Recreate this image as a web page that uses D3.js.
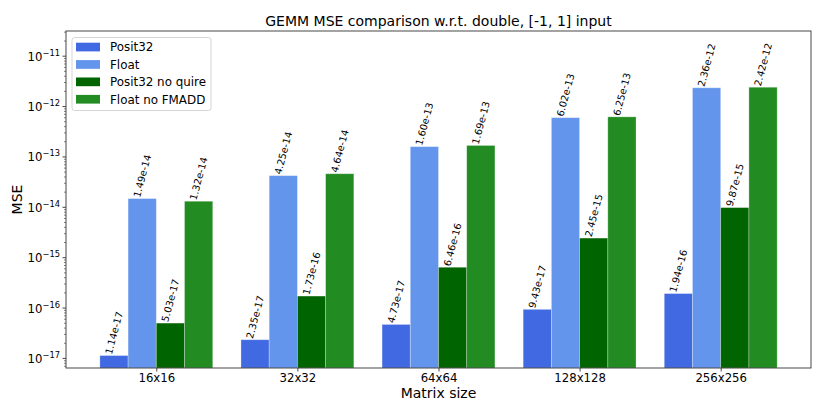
<!DOCTYPE html>
<html>
<head>
<meta charset="utf-8">
<script src="https://cdn.jsdelivr.net/npm/d3@7"></script>
<style>
  body { margin: 0; background: #fff; }
  text { font-family: "DejaVu Sans", sans-serif; fill: #000; }
</style>
</head>
<body>
<div id="chart"></div>
<script>
const W = 831, H = 412;
const margin = { top: 31, right: 20, bottom: 44, left: 66 };

// data
const sizes = ["16x16", "32x32", "64x64", "128x128", "256x256"];
const seriesNames = ["Posit32", "Float", "Posit32 no quire", "Float no FMADD"];
const seriesColors = ["#4169e1", "#6495ed", "#006400", "#228b22"];
const posit32 = [1.14e-17, 2.35e-17, 4.73e-17, 9.43e-17, 1.94e-16];
const float32 = [1.49e-14, 4.25e-14, 1.60e-13, 6.02e-13, 2.36e-12];
const positNoQuire = [5.03e-17, 1.73e-16, 6.46e-16, 2.45e-15, 9.87e-15];
const floatNoFmadd = [1.32e-14, 4.64e-14, 1.69e-13, 6.25e-13, 2.42e-12];
const yTickExps = [-17, -16, -15, -14, -13, -12, -11];

const series = [posit32, float32, positNoQuire, floatNoFmadd];
const barW = 0.2;

const svg = d3.select("#chart").append("svg")
  .attr("width", W)
  .attr("height", H);

const x = d3.scaleLinear()
  .domain([-0.64, 4.64])
  .range([margin.left, W - margin.right]);

const y = d3.scaleLog()
  .domain([Math.pow(10, -17.19), Math.pow(10, -10.5)])
  .range([H - margin.bottom, margin.top]);

const bottom = H - margin.bottom;

// bars
svg.append("clipPath").attr("id", "plot-clip")
  .append("rect")
  .attr("x", margin.left).attr("y", margin.top)
  .attr("width", W - margin.left - margin.right)
  .attr("height", bottom - margin.top);

const plot = svg.append("g").attr("clip-path", "url(#plot-clip)");

series.forEach((vals, s) => {
  const off = (s - 1.5) * barW;
  plot.selectAll(".bar-" + s)
    .data(vals)
    .enter().append("rect")
    .attr("x", (d, i) => x(i + off - barW / 2))
    .attr("y", d => y(d))
    .attr("width", x(barW) - x(0))
    .attr("height", d => bottom - y(d))
    .attr("fill", seriesColors[s])
    .attr("stroke", "#fff")
    .attr("stroke-opacity", 0.35)
    .attr("stroke-width", 0.8);
});

// value labels, rotated 75deg, bbox centred on bar and sitting on its top
const angle = 75, labelSize = 9.8;
const rad = angle * Math.PI / 180;
series.forEach((vals, s) => {
  const off = (s - 1.5) * barW;
  svg.selectAll(".lbl-" + s)
    .data(vals)
    .enter().append("text")
    .style("font-size", labelSize + "px")
    .attr("text-anchor", "middle")
    .attr("dominant-baseline", "central")
    .text(d => d.toExponential(2))
    .each(function(d, i) {
      const L = this.getComputedTextLength();
      const h = labelSize * 1.17;
      const bh = L * Math.sin(rad) + h * Math.cos(rad);
      const cx = x(i + off);
      const cy = y(d) - bh / 2;
      d3.select(this).attr("transform", `translate(${cx},${cy}) rotate(${-angle})`);
    });
});

// frame
svg.append("rect")
  .attr("x", margin.left).attr("y", margin.top)
  .attr("width", W - margin.left - margin.right)
  .attr("height", bottom - margin.top)
  .attr("fill", "none")
  .attr("stroke", "#333")
  .attr("stroke-width", 0.9);

// x axis
const xAxis = svg.append("g")
  .attr("transform", `translate(0,${bottom})`)
  .call(d3.axisBottom(x).tickValues(d3.range(sizes.length)).tickFormat(i => sizes[i]).tickSize(3.5).tickPadding(2));
xAxis.select(".domain").remove();
xAxis.selectAll("line").attr("stroke", "#333").attr("stroke-width", 0.9);
xAxis.selectAll("text").style("font-size", "11.7px").attr("fill", "#000");

// y axis: major ticks with 10^n labels, plus minor ticks
const minor = [];
for (let e = -18; e <= -10; e++) {
  for (let m = 2; m <= 9; m++) {
    const v = m * Math.pow(10, e);
    if (v >= y.domain()[0] && v <= y.domain()[1]) minor.push(v);
  }
}
const yAxis = svg.append("g").attr("transform", `translate(${margin.left},0)`);
yAxis.selectAll(".minor")
  .data(minor)
  .enter().append("line")
  .attr("x1", 0).attr("x2", -2)
  .attr("y1", d => y(d)).attr("y2", d => y(d))
  .attr("stroke", "#333").attr("stroke-width", 0.6);
yAxis.selectAll(".major")
  .data(yTickExps)
  .enter().append("line")
  .attr("x1", 0).attr("x2", -3.5)
  .attr("y1", d => y(Math.pow(10, d))).attr("y2", d => y(Math.pow(10, d)))
  .attr("stroke", "#333").attr("stroke-width", 0.9);
const yl = yAxis.selectAll(".ylab")
  .data(yTickExps)
  .enter().append("text")
  .attr("x", -6)
  .attr("y", d => y(Math.pow(10, d)) + 4.5)
  .attr("text-anchor", "end")
  .style("font-size", "11.7px");
yl.append("tspan").text("10");
yl.append("tspan")
  .attr("dy", -5)
  .style("font-size", "8.3px")
  .text(d => "\u2212" + Math.abs(d));

// titles
svg.append("text")
  .attr("x", (margin.left + W - margin.right) / 2)
  .attr("y", 26)
  .attr("text-anchor", "middle")
  .style("font-size", "14px")
  .text("GEMM MSE comparison w.r.t. double, [-1, 1] input");

svg.append("text")
  .attr("x", (margin.left + W - margin.right) / 2)
  .attr("y", 398)
  .attr("text-anchor", "middle")
  .style("font-size", "14px")
  .text("Matrix size");

svg.append("text")
  .attr("transform", `translate(22,${(margin.top + bottom) / 2}) rotate(-90)`)
  .attr("text-anchor", "middle")
  .style("font-size", "14px")
  .text("MSE");

// legend
const legend = svg.append("g");
legend.append("rect")
  .attr("x", 72).attr("y", 37.5)
  .attr("width", 139).attr("height", 73)
  .attr("rx", 2.5)
  .attr("fill", "#fff").attr("fill-opacity", 0.8)
  .attr("stroke", "#d0d0d0").attr("stroke-width", 0.9);
legend.selectAll(".item")
  .data(seriesNames)
  .enter().append("g")
  .attr("transform", (d, i) => `translate(0,${47 + i * 17.4})`)
  .each(function(d, i) {
    d3.select(this).append("rect")
      .attr("x", 76).attr("y", -4.3)
      .attr("width", 24).attr("height", 8.7)
      .attr("fill", seriesColors[i]);
    d3.select(this).append("text")
      .attr("x", 110).attr("y", 4.3)
      .style("font-size", "11.9px")
      .text(d);
  });
</script>
</body>
</html>
